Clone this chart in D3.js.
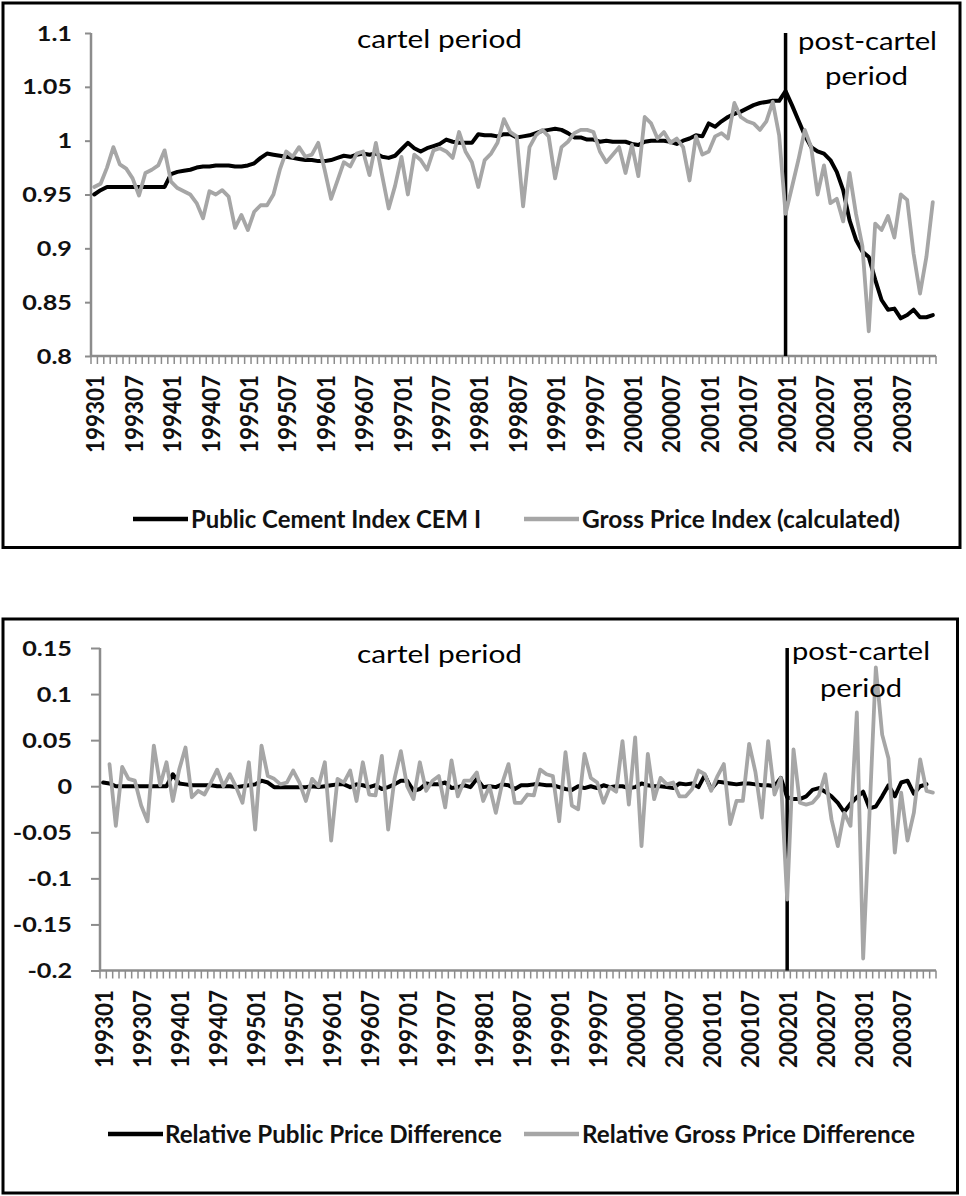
<!DOCTYPE html>
<html><head><meta charset="utf-8">
<script src="https://cdn.jsdelivr.net/npm/d3@7"></script>
<style>body{margin:0;background:#fff}svg{display:block}</style>
</head><body>
<svg id="c" width="966" height="1196"></svg>
<script>
// ---------- DATA ----------
const years = [1993,1994,1995,1996,1997,1998,1999,2000,2001,2002,2003];
const monthCodes = ["01","02","03","04","05","06","07","08","09","10","11","12"];
const months = [];
years.forEach(y => monthCodes.forEach(m => months.push(y + m)));

const tickLabels = ["199301","199307","199401","199407","199501","199507","199601","199607","199701","199707",
  "199801","199807","199901","199907","200001","200007","200101","200107","200201","200207","200301","200307"];

const topTicks = [0.8,0.85,0.9,0.95,1,1.05,1.1];
const bottomTicks = [-0.2,-0.15,-0.1,-0.05,0,0.05,0.1,0.15];

const publicIndex = [
 0.950,0.954,0.957,0.957,0.957,0.957,0.957,0.957,0.957,0.957,0.957,0.957,
 0.969,0.971,0.972,0.973,0.975,0.976,0.976,0.977,0.977,0.977,0.976,0.976,
 0.977,0.979,0.984,0.988,0.987,0.986,0.985,0.984,0.983,0.982,0.982,0.981,
 0.981,0.982,0.984,0.986,0.985,0.987,0.988,0.987,0.988,0.985,0.984,0.986,
 0.992,0.998,0.993,0.990,0.993,0.995,0.997,1.001,0.999,0.998,0.998,0.998,
 1.006,1.005,1.005,1.004,1.006,1.006,1.003,1.004,1.005,1.007,1.009,1.010,
 1.011,1.010,1.007,1.003,1.003,1.001,1.001,0.999,1.000,0.999,0.999,0.999,
 0.997,0.996,0.999,1.000,1.000,1.000,0.999,0.997,1.000,1.002,1.005,1.004,
 1.016,1.013,1.018,1.022,1.025,1.027,1.030,1.033,1.035,1.036,1.037,1.037,
 1.046,1.033,1.019,1.005,0.994,0.990,0.988,0.982,0.971,0.954,0.926,0.908,
 0.897,0.892,0.871,0.852,0.843,0.844,0.835,0.838,0.843,0.836,0.836,0.838];

const grossIndex = [
 0.957,0.960,0.975,0.994,0.978,0.974,0.965,0.949,0.970,0.973,0.977,0.991,
 0.962,0.956,0.953,0.950,0.942,0.928,0.953,0.950,0.954,0.948,0.919,0.931,
 0.917,0.934,0.940,0.940,0.950,0.973,0.990,0.985,0.994,0.985,0.987,0.998,
 0.973,0.946,0.963,0.980,0.976,0.988,0.990,0.968,0.998,0.967,0.937,0.958,
 0.985,0.950,0.987,0.982,0.973,0.991,0.993,0.990,0.984,1.008,0.990,0.980,
 0.957,0.982,0.988,0.998,1.020,1.008,1.004,0.939,0.994,1.005,1.010,1.004,
 0.965,0.994,0.999,1.007,1.010,1.010,1.008,0.990,0.980,0.987,0.994,0.970,
 0.996,0.967,1.022,1.016,1.002,1.008,0.998,1.002,0.994,0.963,1.004,0.987,
 0.990,1.004,1.007,1.002,1.035,1.022,1.018,1.016,1.010,1.018,1.036,1.005,
 0.932,0.957,0.982,1.010,0.994,0.950,0.977,0.942,0.946,0.925,0.970,0.932,
 0.902,0.823,0.923,0.917,0.930,0.910,0.950,0.945,0.895,0.858,0.892,0.943];

const publicDiff = [
 0.004,0.003,0.000,0.000,0.000,0.000,0.000,0.000,0.000,0.000,0.000,0.013,
 0.003,0.002,0.001,0.001,0.001,0.001,0.000,0.000,0.000,-0.001,0.000,0.001,
 0.002,0.006,0.004,-0.001,-0.001,-0.001,-0.001,-0.001,-0.001,0.000,-0.001,0.000,
 0.001,0.002,0.002,-0.001,0.002,0.001,-0.001,0.001,-0.003,-0.001,0.002,0.006,
 0.006,-0.005,-0.003,0.003,0.002,0.002,0.004,-0.002,-0.001,0.001,-0.001,0.008,
 -0.001,0.000,-0.001,0.002,0.001,-0.003,0.001,0.001,0.002,0.002,0.001,0.001,
 -0.001,-0.003,-0.004,0.000,-0.002,0.000,-0.002,0.001,-0.001,0.000,0.000,-0.002,
 -0.001,0.003,0.001,0.000,0.000,-0.001,-0.002,0.003,0.002,0.003,-0.001,0.012,
 -0.003,0.005,0.004,0.003,0.002,0.003,0.003,0.002,0.001,0.001,0.000,0.009,
 -0.012,-0.014,-0.014,-0.011,-0.004,-0.002,-0.006,-0.011,-0.018,-0.028,-0.019,-0.012,
 -0.006,-0.024,-0.022,-0.011,0.001,-0.011,0.004,0.006,-0.008,0.000,0.002,null];

const grossDiff = [
 null,0.024,-0.043,0.021,0.008,0.006,-0.021,-0.038,0.044,0.001,0.026,-0.016,
 0.018,0.042,-0.012,-0.005,-0.009,0.004,0.018,0.000,0.013,-0.001,-0.018,0.026,
 -0.047,0.044,0.011,0.008,0.002,0.004,0.017,0.004,-0.016,0.008,0.000,0.026,
 -0.059,0.008,0.004,0.017,-0.016,0.026,-0.009,-0.010,0.033,-0.047,0.008,0.038,
 0.000,-0.014,0.026,-0.005,0.006,0.011,-0.023,0.028,-0.011,0.006,0.006,0.015,
 -0.016,0.000,-0.029,0.003,0.024,-0.018,-0.018,-0.009,-0.010,0.018,0.013,0.011,
 -0.038,0.037,-0.021,-0.025,0.035,0.009,0.004,-0.018,-0.001,-0.006,0.049,-0.020,
 0.053,-0.065,0.035,-0.014,0.009,0.002,0.004,-0.011,-0.011,-0.003,0.017,0.013,
 -0.005,0.011,0.024,-0.041,-0.016,-0.016,0.046,0.015,-0.034,0.049,-0.009,0.009,
 -0.123,0.040,-0.018,-0.020,-0.018,-0.010,0.013,-0.036,-0.065,-0.029,-0.043,0.080,
 -0.187,-0.030,0.129,0.056,0.030,-0.072,-0.007,-0.059,-0.029,0.029,-0.005,-0.007];

const breakMonth = "200201";
const seriesNamesTop = ["Public Cement Index CEM I","Gross Price Index (calculated)"];
const seriesNamesBottom = ["Relative Public Price Difference","Relative Gross Price Difference"];

// ---------- DRAW ----------
const svg = d3.select("#c");
const BLACK = "#000000", GRAY = "#a6a6a6", AXIS = "#8c8c8c";
const FONT = "Lato, 'Open Sans', sans-serif";

function fitText(sel, width) {
  sel.attr("textLength", width).attr("lengthAdjust", "spacingAndGlyphs");
}

function drawPanel(p) {
  const g = svg.append("g");
  g.append("rect").attr("x", p.box[0]).attr("y", p.box[1])
    .attr("width", p.box[2] - p.box[0]).attr("height", p.box[3] - p.box[1])
    .attr("fill", "none").attr("stroke", "#000").attr("stroke-width", 3);

  const x = d3.scaleBand().domain(months).range([p.x0, p.x1]).paddingInner(0).paddingOuter(0);
  const y = d3.scaleLinear().domain(p.domain).range([p.yBottom, p.yTop]);
  const cx = m => x(m) + x.bandwidth() / 2;

  // y axis
  const ya = g.append("g").attr("transform", `translate(${p.x0},0)`)
    .call(d3.axisLeft(y).tickValues(p.ticks).tickSize(p.yTickLen).tickFormat(d => d3.format("")(+d.toFixed(2))));
  ya.select(".domain").attr("stroke", AXIS).attr("stroke-width", 2.5).attr("d", `M0,${p.yTop}V${p.yBottom}`);
  ya.selectAll(".tick line").attr("stroke", AXIS).attr("stroke-width", 2);
  ya.selectAll(".tick text").remove();
  p.ticks.forEach(t => {
    const txt = g.append("text").attr("x", 0).attr("y", y(t) + 7.5)
      .attr("font-family", FONT).attr("font-weight", "bold").attr("font-size", 21)
      .attr("fill", "#111").text(+t.toFixed(2));
    const w = txt.node().getComputedTextLength() * 1.2;
    txt.attr("x", p.yLabelRight - w);
    fitText(txt, w);
  });

  // x axis
  const xa = g.append("g").attr("transform", `translate(0,${p.yBottom})`)
    .call(d3.axisBottom(x).tickValues([]).tickSizeOuter(0));
  xa.select(".domain").attr("stroke", AXIS).attr("stroke-width", 2.5).attr("d", `M${p.x0},0H${p.x1}`);
  const edges = months.map(m => x(m)).concat([p.x1]);
  g.append("g").selectAll("line").data(edges).join("line")
    .attr("x1", d => d).attr("x2", d => d)
    .attr("y1", p.yBottom).attr("y2", p.yBottom + 8)
    .attr("stroke", AXIS).attr("stroke-width", 1.5);
  tickLabels.forEach(lab => {
    const lx = cx(lab) + 1;
    g.append("text")
      .attr("transform", `translate(${lx},${p.labelTop}) scale(1.2,1) rotate(-90)`)
      .attr("text-anchor", "end").attr("dy", "0.36em")
      .attr("font-family", FONT).attr("font-weight", "bold").attr("font-size", 21)
      .attr("fill", "#111").attr("textLength", 78).attr("lengthAdjust", "spacingAndGlyphs")
      .text(lab);
  });

  // divider line
  g.append("line").attr("x1", cx(breakMonth)).attr("x2", cx(breakMonth))
    .attr("y1", p.yTop).attr("y2", p.yBottom)
    .attr("stroke", "#000").attr("stroke-width", 3.5);

  const line = d3.line().defined(d => d[1] !== null)
    .x(d => cx(d[0])).y(d => y(d[1]));
  g.append("path").datum(months.map((m, i) => [m, p.s1[i]]))
    .attr("d", line).attr("fill", "none").attr("stroke", BLACK)
    .attr("stroke-width", 4).attr("stroke-linejoin", "round").attr("stroke-linecap", "round");
  g.append("path").datum(months.map((m, i) => [m, p.s2[i]]))
    .attr("d", line).attr("fill", "none").attr("stroke", GRAY)
    .attr("stroke-width", 3.8).attr("stroke-linejoin", "round").attr("stroke-linecap", "round");

  // annotations
  p.notes.forEach(n => {
    const t = g.append("text").attr("x", n.x).attr("y", n.y)
      .attr("font-family", FONT).attr("font-size", 25).attr("fill", "#000").text(n.t);
    fitText(t, n.w);
  });

  // legend
  p.legend.forEach((l, k) => {
    g.append("line").attr("x1", l.sx0).attr("x2", l.sx1).attr("y1", p.legY).attr("y2", p.legY)
      .attr("stroke", k === 0 ? BLACK : GRAY).attr("stroke-width", 4.5);
    const t = g.append("text").attr("x", l.tx).attr("y", p.legY + 9)
      .attr("font-family", FONT).attr("font-weight", "bold").attr("font-size", 24)
      .attr("fill", "#111").text(l.name);
    fitText(t, l.tw);
  });
}

drawPanel({
  box: [3, 3, 960, 547.5],
  x0: 91, x1: 936, yTop: 33, yBottom: 356, domain: [0.8, 1.1], ticks: topTicks,
  yTickLen: 6, yLabelRight: 72, labelTop: 375,
  s1: publicIndex, s2: grossIndex,
  notes: [
    {t: "cartel period", x: 357, y: 48, w: 165},
    {t: "post-cartel", x: 798, y: 50, w: 139},
    {t: "period", x: 825, y: 85, w: 83}
  ],
  legY: 519,
  legend: [
    {name: seriesNamesTop[0], sx0: 133, sx1: 188, tx: 191, tw: 290},
    {name: seriesNamesTop[1], sx0: 524, sx1: 579, tx: 582, tw: 318}
  ]
});

drawPanel({
  box: [3, 619, 957.5, 1193],
  x0: 100, x1: 936, yTop: 648, yBottom: 970.5, domain: [-0.2, 0.15], ticks: bottomTicks,
  yTickLen: 9, yLabelRight: 72, labelTop: 990,
  s1: publicDiff, s2: grossDiff,
  notes: [
    {t: "cartel period", x: 357, y: 663, w: 165},
    {t: "post-cartel", x: 792, y: 660, w: 138},
    {t: "period", x: 820, y: 697, w: 82}
  ],
  legY: 1134,
  legend: [
    {name: seriesNamesBottom[0], sx0: 108, sx1: 163, tx: 165, tw: 337},
    {name: seriesNamesBottom[1], sx0: 524, sx1: 579, tx: 582, tw: 333}
  ]
});
</script>
</body></html>
